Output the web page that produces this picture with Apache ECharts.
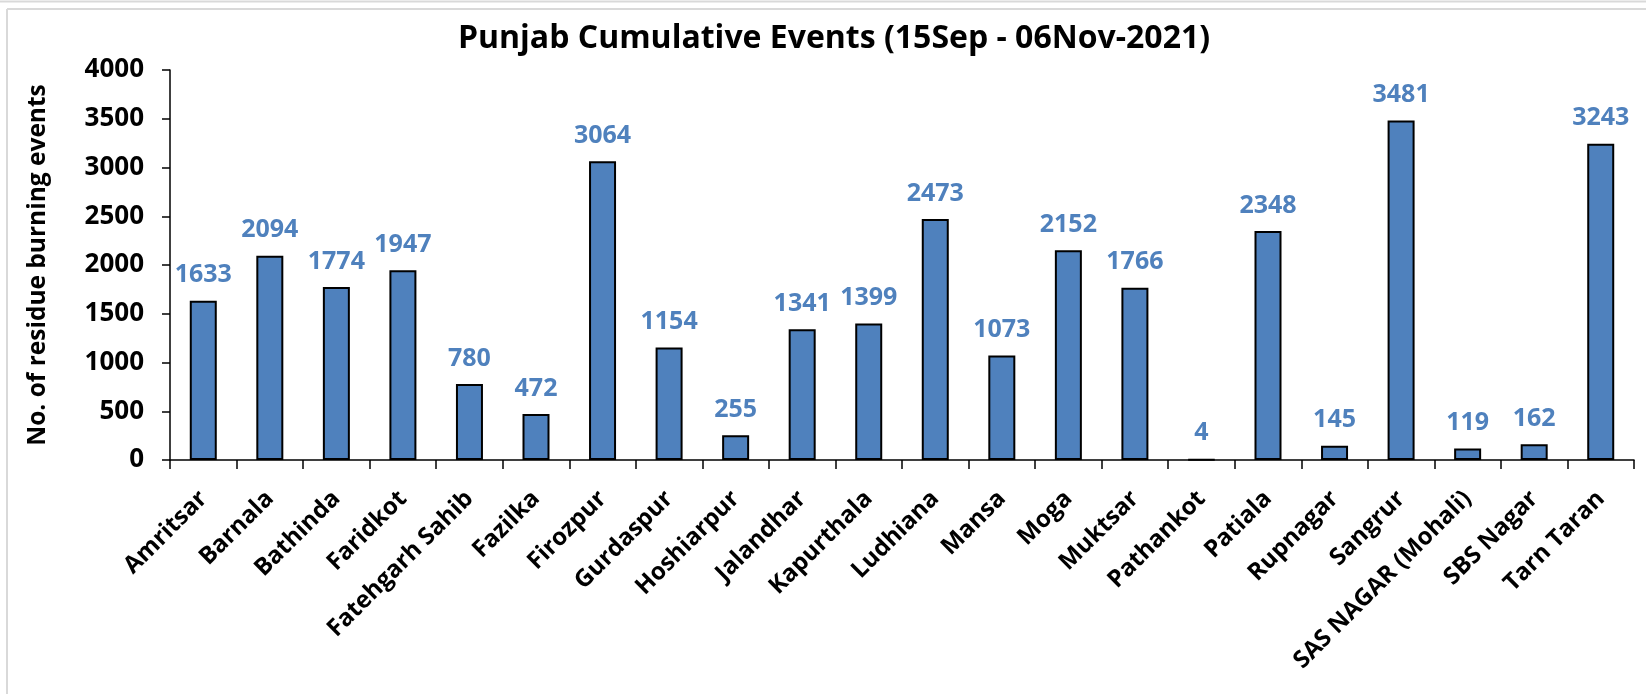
<!DOCTYPE html>
<html>
<head>
<meta charset="utf-8">
<script src="https://cdn.jsdelivr.net/npm/echarts@6/dist/echarts.min.js"></script>
<style>
html,body{margin:0;padding:0;background:#fff;}
#chart{width:1646px;height:694px;}
</style>
</head>
<body>
<div id="chart"></div>
<script>
const categories = ["Amritsar","Barnala","Bathinda","Faridkot","Fatehgarh Sahib","Fazilka","Firozpur","Gurdaspur","Hoshiarpur","Jalandhar","Kapurthala","Ludhiana","Mansa","Moga","Muktsar","Pathankot","Patiala","Rupnagar","Sangrur","SAS NAGAR (Mohali)","SBS Nagar","Tarn Taran"];
const events = [1633,2094,1774,1947,780,472,3064,1154,255,1341,1399,2473,1073,2152,1766,4,2348,145,3481,119,162,3243];
const yTicks = {min:0, max:4000, interval:500};

const FONT = '"Open Sans"';
const chart = echarts.init(document.getElementById('chart'));
chart.setOption({
  backgroundColor:'#ffffff',
  animation:false,
  title:{
    text:'Punjab Cumulative Events (15Sep - 06Nov-2021)',
    left:829, top:18, textAlign:'center',
    textStyle:{fontFamily:FONT, fontWeight:'bold', fontSize:32, color:'#000'}
  },
  graphic:[
    {type:'line', shape:{x1:0,y1:1.5,x2:1646,y2:1.5}, style:{stroke:'#d9d9d9', lineWidth:2}},
    {type:'line', shape:{x1:7,y1:9,x2:1646,y2:9}, style:{stroke:'#d9d9d9', lineWidth:2}},
    {type:'line', shape:{x1:7,y1:9,x2:7,y2:694}, style:{stroke:'#d9d9d9', lineWidth:2}}
  ],
  grid:{left:170, right:12, top:70, bottom:234, containLabel:false},
  xAxis:{
    type:'category', data:categories,
    axisLine:{lineStyle:{color:'#000', width:1.5}},
    axisTick:{show:true, length:9, lineStyle:{color:'#000', width:1.5}},
    axisLabel:{rotate:45, interval:0, margin:35, color:'#000', fontFamily:FONT, fontWeight:'bold', fontSize:24}
  },
  yAxis:{
    type:'value', min:yTicks.min, max:yTicks.max, interval:yTicks.interval,
    name:'No. of residue burning events', nameLocation:'middle', nameGap:119,
    nameTextStyle:{color:'#000', fontFamily:FONT, fontWeight:'bold', fontSize:24.5},
    splitLine:{show:false},
    axisLine:{show:true, lineStyle:{color:'#000', width:1.5}},
    axisTick:{show:true, length:8, lineStyle:{color:'#000', width:1.5}},
    axisLabel:{margin:26, color:'#000', fontFamily:FONT, fontWeight:'bold', fontSize:26,
      formatter:function(v){return String(v);}}
  },
  series:[{
    type:'bar', data:events, barWidth:27,
    itemStyle:{color:'#4F81BD', borderColor:'#000', borderWidth:2},
    label:{show:true, position:'top', distance:13, color:'#4F81BD', fontFamily:FONT, fontWeight:'bold', fontSize:25}
  }]
});
</script>
</body>
</html>
